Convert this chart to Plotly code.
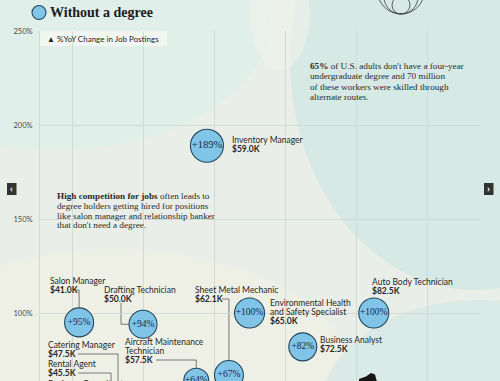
import plotly.graph_objects as go

# ---------------- data ----------------
jobs = ["Inventory Manager", "Salon Manager", "Drafting Technician", "Sheet Metal Mechanic",
        "Environmental Health and Safety Specialist", "Business Analyst",
        "Auto Body Technician", "Aircraft Maintenance Technician"]
salary_k = [59.0, 41.0, 50.0, 62.1, 65.0, 72.5, 82.5, 57.5]
yoy_pct = [189, 95, 94, 67, 100, 82, 100, 64]
bubble_scale = [33, 29, 28, 29, 30, 28, 30, 25]

offscreen_jobs = ["Catering Manager", "Rental Agent", "Business Consultant"]
offscreen_salary_k = [47.5, 45.5, None]

y_ticks = [100, 150, 200, 250]
y_tick_labels = ["100%", "150%", "200%", "250%"]
x_grid = [40, 50, 60, 70, 80, 90]

# ---------------- geometry helpers ----------------
W, H = 500, 381
PL, PR, PT, PB = 40, 480, 31, 381
X_RANGE = [35.49, 97.46]
Y_RANGE = [63.83, 250]

def ppx(xp):
    return (xp - PL) / (PR - PL)

def ppy(yp):
    return (PB - yp) / (PB - PT)

def dx(xp):
    return X_RANGE[0] + (xp - PL) / (PR - PL) * (X_RANGE[1] - X_RANGE[0])

def dy(yp):
    return Y_RANGE[0] + (PB - yp) / (PB - PT) * (Y_RANGE[1] - Y_RANGE[0])

SANS = "Lato, 'Noto Sans', sans-serif"
SERIF = "'Liberation Serif', 'DejaVu Serif', serif"
TXT = "#262626"
GRID = "#d2dad5"

fig = go.Figure()

# bubbles
fig.add_trace(go.Scatter(
    x=salary_k, y=yoy_pct, mode="markers+text",
    text=[f"+{v}%" for v in yoy_pct],
    textposition="middle center",
    textfont=dict(family=SERIF, size=[10.5 if v > 150 else 9.5 for v in yoy_pct], color="#17284a"),
    marker=dict(size=bubble_scale, sizemode="diameter", color="#80c5e8",
                line=dict(color="#24465a", width=1.1), opacity=1),
    hoverinfo="skip", showlegend=False, cliponaxis=False,
))

shapes = []
annotations = []

# background washes (paper refs, drawn beneath everything)
def blob(x0, y0, x1, y1, color, op=1.0):
    shapes.append(dict(type="circle", xref="paper", yref="paper", layer="below",
                       x0=ppx(x0), x1=ppx(x1), y0=ppy(y1), y1=ppy(y0),
                       fillcolor=color, opacity=op, line=dict(width=0)))

blob(-160, -110, 270, 150, "#e0eeeb", 0.9)
blob(-120, 250, 350, 500, "#eef0e6", 0.9)
blob(290, -170, 660, 290, "#d6e8e5", 0.95)
blob(320, 300, 640, 520, "#d8e9e5", 0.9)
blob(250, -40, 310, 70, "#eef1ea", 0.6)

# legend box behind axis title
shapes.append(dict(type="rect", xref="paper", yref="paper", layer="below",
                   x0=ppx(40), x1=ppx(167), y0=ppy(46), y1=ppy(31),
                   fillcolor="rgba(246,248,243,0.75)", line=dict(width=0)))

# leader lines (data-coordinate paths, drawn under the bubbles)
def leader(points):
    d = "M " + " L ".join(f"{x},{y}" for x, y in points)
    shapes.append(dict(type="path", xref="x", yref="y", layer="below", path=d,
                       line=dict(color="#5a5a5a", width=0.8)))

i = {j: k for k, j in enumerate(jobs)}
s, p = salary_k, yoy_pct
leader([(dx(76), dy(290)), (s[i["Salon Manager"]], dy(290)),
        (s[i["Salon Manager"]], p[i["Salon Manager"]])])
leader([(dx(121), dy(303)), (dx(121), p[i["Drafting Technician"]]),
        (s[i["Drafting Technician"]], p[i["Drafting Technician"]])])
leader([(dx(222), dy(299)), (s[i["Sheet Metal Mechanic"]], dy(299)),
        (s[i["Sheet Metal Mechanic"]], p[i["Sheet Metal Mechanic"]])])
leader([(dx(156), dy(360)), (s[i["Aircraft Maintenance Technician"]], dy(360)),
        (s[i["Aircraft Maintenance Technician"]], p[i["Aircraft Maintenance Technician"]])])
leader([(dx(78), dy(354)), (dx(118), dy(354)), (dx(118), Y_RANGE[0] - 20)])
leader([(dx(78), dy(373)), (offscreen_salary_k[1], dy(373)), (offscreen_salary_k[1], Y_RANGE[0] - 20)])

# text helper
def txt(xp, yp, text, size=8.5, family=SANS, color=TXT, xanchor="left"):
    annotations.append(dict(x=ppx(xp), y=ppy(yp), xref="paper", yref="paper",
                            text=text, showarrow=False, xanchor=xanchor, yanchor="middle",
                            font=dict(family=family, size=size, color=color)))

def job_label(xp, yp, name_lines, salary):
    for k, ln in enumerate(name_lines):
        txt(xp, yp + 9 * k, ln)
    txt(xp, yp + 9 * len(name_lines), f"<b>${salary:.1f}K</b>")

job_label(230, 140, ["Inventory Manager"], s[i["Inventory Manager"]])
job_label(48, 281, ["Salon Manager"], s[i["Salon Manager"]])
job_label(102, 290, ["Drafting Technician"], s[i["Drafting Technician"]])
job_label(193, 290, ["Sheet Metal Mechanic"], s[i["Sheet Metal Mechanic"]])
job_label(268, 303, ["Environmental Health", "and Safety Specialist"],
          s[i["Environmental Health and Safety Specialist"]])
job_label(318, 340, ["Business Analyst"], s[i["Business Analyst"]])
job_label(370, 282, ["Auto Body Technician"], s[i["Auto Body Technician"]])
job_label(123, 342, ["Aircraft Maintenance", "Technician"],
          s[i["Aircraft Maintenance Technician"]])
job_label(46, 345, [offscreen_jobs[0]], offscreen_salary_k[0])
job_label(46, 364, [offscreen_jobs[1]], offscreen_salary_k[1])
txt(46, 383.5, offscreen_jobs[2])

# titles & notes
txt(48, 12.5, "<b>Without a degree</b>", size=14, family=SERIF, color="#1c1c1c")
shapes.append(dict(type="circle", xref="paper", yref="paper", layer="above",
                   x0=ppx(32), x1=ppx(46), y0=ppy(19.5), y1=ppy(5.5),
                   fillcolor="#80c5e8", line=dict(color="#24465a", width=1.1)))
txt(45, 38.5, "▲ %YoY Change in Job Postings", size=8, color="#1f1f1f")

note1 = ["<b>65%</b> of U.S. adults don't have a four-year",
         "undergraduate degree and 70 million",
         "of these workers were skilled through",
         "alternate routes."]
for k, ln in enumerate(note1):
    txt(308, 66 + 10.4 * k, ln, size=9.2, family=SERIF, color="#2a2a2a")

note2 = ["<b>High competition for jobs</b> often leads to",
         "degree holders getting hired for positions",
         "like salon manager and relationship banker",
         "that don't need a degree."]
for k, ln in enumerate(note2):
    txt(55, 196 + 9.8 * k, ln, size=9.2, family=SERIF, color="#2a2a2a")

# size legend (nested circles, top right)
for r in [23.5, 17, 9]:
    shapes.append(dict(type="circle", xref="paper", yref="paper", layer="above",
                       x0=ppx(401 - r), x1=ppx(401 + r), y0=ppy(14), y1=ppy(14 - 2 * r),
                       line=dict(color="#3a3a3a", width=0.8)))

# nav arrows
for x0, ch in [(7, "‹"), (484, "›")]:
    shapes.append(dict(type="rect", xref="paper", yref="paper", layer="above",
                       x0=ppx(x0), x1=ppx(x0 + 9.5), y0=ppy(195), y1=ppy(183),
                       fillcolor="#333333", line=dict(width=0)))
    txt(x0 + 4.75, 188.5, f"<b>{ch}</b>", size=10, color="#ffffff", xanchor="center")

# small dark graphic at bottom right
pts = [(359, 379), (366, 376.5), (371, 373), (375, 374.5), (377, 382), (359, 382)]
shapes.append(dict(type="path", xref="paper", yref="paper", layer="above",
                   path="M " + " L ".join(f"{ppx(a)},{ppy(b)}" for a, b in pts) + " Z",
                   fillcolor="#151515", line=dict(width=0)))

fig.update_layout(
    width=W, height=H,
    margin=dict(l=PL, r=W - PR, t=PT, b=H - PB),
    paper_bgcolor="#e9efe8", plot_bgcolor="rgba(0,0,0,0)",
    xaxis=dict(range=X_RANGE, tickvals=x_grid, showticklabels=False, showgrid=True,
               gridcolor=GRID, gridwidth=1, zeroline=False, showline=False, ticks=""),
    yaxis=dict(range=Y_RANGE, tickvals=y_ticks, ticktext=y_tick_labels, showgrid=True,
               gridcolor=GRID, gridwidth=1, zeroline=False, showline=True, linecolor=GRID,
               ticks="", ticklabelstandoff=5,
               tickfont=dict(family=SANS, size=7.5, color="#4a4a4a")),
    shapes=shapes, annotations=annotations, showlegend=False,
)

fig.write_html("out.html", config={"displayModeBar": False},
               post_script="document.body.style.margin='0';document.body.style.background='#e9efe8';")
